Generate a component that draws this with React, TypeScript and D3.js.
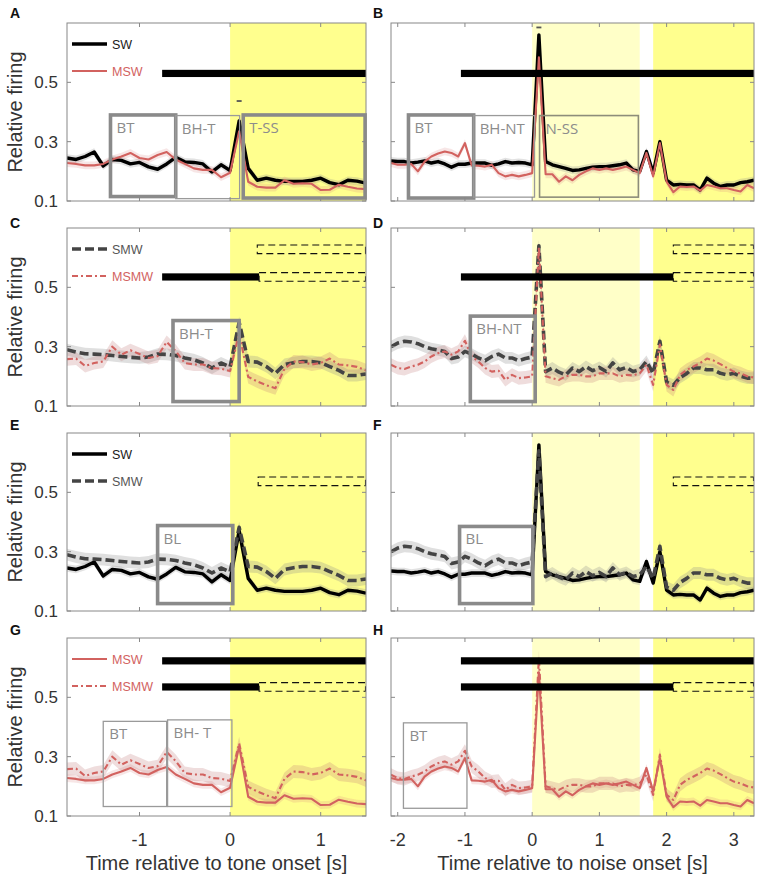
import React from 'react';
import * as d3 from 'd3';

// ---------- DATA ----------
const toneTime = [-1.8, -1.7, -1.6, -1.5, -1.4, -1.3, -1.2, -1.1, -1.0, -0.9, -0.8, -0.7, -0.6, -0.5, -0.4, -0.3, -0.2, -0.1, 0.0,
  0.1, 0.2, 0.3, 0.4, 0.5, 0.6, 0.7, 0.8, 0.9, 1.0, 1.1, 1.2, 1.3, 1.4, 1.5];
const noiseTime = [-2.1, -2.0, -1.9, -1.8, -1.7, -1.6, -1.5, -1.4, -1.3, -1.2, -1.1, -1.0, -0.9, -0.8, -0.7, -0.6, -0.5, -0.4, -0.3, -0.2, -0.1,
  0.0, 0.1, 0.2, 0.3, 0.4, 0.5, 0.6, 0.7, 0.8, 0.9, 1.0, 1.1, 1.2, 1.3, 1.4, 1.5, 1.6, 1.7, 1.8, 1.9, 2.0, 2.1, 2.2, 2.3, 2.4, 2.5,
  2.6, 2.7, 2.8, 2.9, 3.0, 3.1, 3.2, 3.3];

const swTone = [0.245, 0.24, 0.25, 0.265, 0.218, 0.24, 0.237, 0.225, 0.23, 0.215, 0.207, 0.225, 0.247, 0.232, 0.23, 0.225, 0.198, 0.222, 0.203,
  0.37, 0.21, 0.17, 0.177, 0.17, 0.166, 0.166, 0.166, 0.17, 0.177, 0.162, 0.155, 0.17, 0.167, 0.16];
const mswTone = [0.228, 0.225, 0.22, 0.22, 0.225, 0.24, 0.25, 0.262, 0.245, 0.24, 0.255, 0.265, 0.24, 0.225, 0.21, 0.205, 0.205, 0.18, 0.195,
  0.335, 0.165, 0.148, 0.145, 0.145, 0.17, 0.158, 0.16, 0.158, 0.137, 0.138, 0.155, 0.148, 0.142, 0.14];
const smwTone = [0.29, 0.282, 0.276, 0.275, 0.273, 0.27, 0.267, 0.264, 0.262, 0.265, 0.275, 0.274, 0.27, 0.262, 0.256, 0.245, 0.228, 0.245, 0.232,
  0.382, 0.25, 0.248, 0.233, 0.21, 0.24, 0.246, 0.25, 0.25, 0.246, 0.233, 0.22, 0.203, 0.203, 0.208];
const msmwTone = [0.258, 0.26, 0.235, 0.245, 0.25, 0.3, 0.273, 0.288, 0.275, 0.262, 0.268, 0.316, 0.285, 0.245, 0.24, 0.24, 0.228, 0.226, 0.218,
  0.345, 0.198, 0.183, 0.17, 0.16, 0.225, 0.25, 0.248, 0.24, 0.245, 0.26, 0.24, 0.237, 0.232, 0.22];

const swNoise = [0.235, 0.233, 0.233, 0.228, 0.231, 0.235, 0.228, 0.233, 0.225, 0.214, 0.224, 0.224, 0.228, 0.228, 0.228, 0.22, 0.225, 0.233,
  0.228, 0.23, 0.228, 0.222, 0.66, 0.233, 0.222, 0.216, 0.21, 0.203, 0.205, 0.21, 0.214, 0.216, 0.216, 0.219, 0.222, 0.228, 0.205, 0.2,
  0.267, 0.194, 0.3, 0.17, 0.154, 0.156, 0.154, 0.154, 0.137, 0.177, 0.16, 0.149, 0.154, 0.154, 0.162, 0.165, 0.17];
const mswNoise = [0.228, 0.222, 0.222, 0.225, 0.2, 0.233, 0.25, 0.26, 0.267, 0.262, 0.25, 0.295, 0.22, 0.219, 0.216, 0.222, 0.194, 0.183,
  0.188, 0.183, 0.188, 0.194, 0.584, 0.19, 0.19, 0.165, 0.183, 0.17, 0.188, 0.2, 0.21, 0.205, 0.21, 0.205, 0.21, 0.216, 0.205, 0.194,
  0.262, 0.183, 0.295, 0.165, 0.13, 0.149, 0.147, 0.149, 0.135, 0.154, 0.149, 0.143, 0.143, 0.137, 0.132, 0.154, 0.143];
const smwNoise = [0.3, 0.312, 0.318, 0.316, 0.31, 0.3, 0.293, 0.289, 0.284, 0.26, 0.265, 0.284, 0.275, 0.262, 0.253, 0.267, 0.275, 0.262,
  0.262, 0.253, 0.26, 0.265, 0.64, 0.216, 0.228, 0.214, 0.205, 0.228, 0.216, 0.233, 0.219, 0.23, 0.216, 0.245, 0.222, 0.23, 0.216, 0.222,
  0.25, 0.21, 0.318, 0.18, 0.17, 0.196, 0.21, 0.228, 0.228, 0.222, 0.222, 0.21, 0.205, 0.21, 0.2, 0.194, 0.194];
const msmwNoise = [0.239, 0.228, 0.225, 0.233, 0.239, 0.25, 0.267, 0.278, 0.284, 0.273, 0.284, 0.32, 0.267, 0.25, 0.228, 0.216, 0.219, 0.188,
  0.205, 0.194, 0.196, 0.2, 0.635, 0.2, 0.194, 0.188, 0.2, 0.205, 0.205, 0.2, 0.2, 0.21, 0.21, 0.21, 0.2, 0.205, 0.203, 0.21,
  0.239, 0.171, 0.307, 0.171, 0.154, 0.205, 0.222, 0.233, 0.245, 0.26, 0.253, 0.241, 0.228, 0.216, 0.21, 0.2, 0.196];

// approximate SEM half-widths of the shaded bands
const semSW = 0.013;
const semMSW = 0.013;
const semSMW = 0.02;
const semMSMW = 0.022;

const yTicks = [0.1, 0.3, 0.5];
const toneTicks = [-1, 0, 1];
const noiseTicks = [-2, -1, 0, 1, 2, 3];

const toneDomain = [-1.8, 1.5];
const noiseDomain = [-2.1, 3.3];
const yDomain = [0.1, 0.7];

// stimulus periods [start, end]
const toneStim = [[0, 1.5]];
const noiseStimWeak = [[0, 1.6]];
const noiseStimStrong = [[1.8, 3.3]];

// analysis windows: [label, t0, t1, v0, v1, weight]
const boxesA = [['BT', -1.32, -0.6, 0.115, 0.39, 'thick'], ['BH-T', -0.6, 0.105, 0.108, 0.388, 'thin'], ['T-SS', 0.145, 1.49, 0.11, 0.39, 'thick']];
const boxesB = [['BT', -1.84, -0.87, 0.11, 0.39, 'thick'], ['BH-NT', -0.87, 0.035, 0.113, 0.388, 'thin'], ['N-SS', 0.11, 1.58, 0.113, 0.388, 'mid']];
const boxesC = [['BH-T', -0.63, 0.1, 0.115, 0.388, 'thick']];
const boxesD = [['BH-NT', -0.92, 0.045, 0.115, 0.403, 'thick']];
const boxesE = [['BL', -0.8, 0.03, 0.125, 0.388, 'thick']];
const boxesF = [['BL', -1.08, 0.01, 0.125, 0.385, 'thick']];
const boxesG = [['BT', -1.4, -0.7, 0.132, 0.419, 'thin'], ['BH- T', -0.69, 0.02, 0.132, 0.424, 'thin']];
const boxesH = [['BT', -1.915, -0.97, 0.126, 0.414, 'thin']];

// significance bars: [t0, t1, level, kind]
const barsA = [[-0.75, 1.5, 0.53, 'solid']];
const barsB = [[-1.06, 3.3, 0.53, 'solid']];
const barsC = [[-0.75, 0.32, 0.535, 'solid'], [0.32, 1.5, 0.535, 'dashed'], [0.3, 1.5, 0.628, 'dashed']];
const barsD = [[-1.06, 2.1, 0.535, 'solid'], [2.1, 3.3, 0.535, 'dashed'], [2.1, 3.3, 0.628, 'dashed']];
const barsE = [[0.31, 1.5, 0.537, 'dashed']];
const barsF = [[2.1, 3.3, 0.537, 'dashed']];
const barsG = [[-0.75, 1.5, 0.623, 'solid'], [-0.75, 0.32, 0.535, 'solid'], [0.32, 1.5, 0.535, 'dashed']];
const barsH = [[-1.06, 3.3, 0.623, 'solid'], [-1.06, 2.1, 0.535, 'solid'], [2.1, 3.3, 0.535, 'dashed']];

// small peak markers [t, level]
const marksA = [[0.1, 0.437]];
const marksB = [[0.1, 0.685]];

// ---------- STYLE / LAYOUT ----------
const RED = '#d2625f';
const styles: any = {
  SW: { stroke: '#000', width: 3.4, dash: null, band: 'rgba(140,140,140,0.25)', text: '#1a1a1a' },
  MSW: { stroke: RED, width: 2.1, dash: null, band: 'rgba(215,130,130,0.2)', text: RED },
  SMW: { stroke: '#444', width: 3.6, dash: '9,4', band: 'rgba(140,140,140,0.28)', text: '#555' },
  MSMW: { stroke: RED, width: 2.1, dash: '6,3,2,3', band: 'rgba(190,120,120,0.25)', text: RED },
};
const seriesData: any = {
  tone: { SW: [swTone, semSW], MSW: [mswTone, semMSW], SMW: [smwTone, semSMW], MSMW: [msmwTone, semMSMW] },
  noise: { SW: [swNoise, semSW], MSW: [mswNoise, semMSW], SMW: [smwNoise, semSMW], MSMW: [msmwNoise, semMSMW] },
};

const panels = [
  { letter: 'A', col: 0, row: 0, series: ['SW', 'MSW'], legend: true, boxes: boxesA, bars: barsA, marks: marksA },
  { letter: 'B', col: 1, row: 0, series: ['SW', 'MSW'], legend: false, boxes: boxesB, bars: barsB, marks: marksB },
  { letter: 'C', col: 0, row: 1, series: ['SMW', 'MSMW'], legend: true, boxes: boxesC, bars: barsC, marks: [] },
  { letter: 'D', col: 1, row: 1, series: ['SMW', 'MSMW'], legend: false, boxes: boxesD, bars: barsD, marks: [] },
  { letter: 'E', col: 0, row: 2, series: ['SW', 'SMW'], legend: true, boxes: boxesE, bars: barsE, marks: [] },
  { letter: 'F', col: 1, row: 2, series: ['SW', 'SMW'], legend: false, boxes: boxesF, bars: barsF, marks: [] },
  { letter: 'G', col: 0, row: 3, series: ['MSW', 'MSMW'], legend: true, boxes: boxesG, bars: barsG, marks: [] },
  { letter: 'H', col: 1, row: 3, series: ['MSW', 'MSMW'], legend: false, boxes: boxesH, bars: barsH, marks: [] },
];

const W = 770, H = 879;
const colX = [[67, 366], [391, 754]];
const rowTop = [23, 228, 433, 638];
const PH = 178;
const letterY = [18, 228, 430, 635];
const letterX = [10, 373];
const AX = 'Liberation Sans, Arial, Helvetica, sans-serif';
const LBL = 'Open Sans, Noto Sans, sans-serif';

function Panel({ p }: { p: any }) {
  const isTone = p.col === 0;
  const [x0, x1] = colX[p.col];
  const top = rowTop[p.row];
  const bottom = top + PH;
  const x = d3.scaleLinear().domain(isTone ? toneDomain : noiseDomain).range([x0, x1]);
  const y = d3.scaleLinear().domain(yDomain).range([bottom, top]);
  const times = isTone ? toneTime : noiseTime;
  const cond = isTone ? 'tone' : 'noise';
  const clipId = `clip-${p.letter}`;
  const xt = isTone ? toneTicks : noiseTicks;

  const line = d3.line<number>().x((_, i) => x(times[i])).y((d) => y(d));
  const area = (vals: number[], sem: number) =>
    d3.area<number>().x((_, i) => x(times[i])).y0((d) => y(d - sem)).y1((d) => y(d + sem))(vals) as string;

  const boxStroke: any = { thick: ['#8a8a8a', 3.6], thin: ['#9a9a9a', 1.3], mid: ['#8d8d7a', 1.6] };

  return (
    <g>
      <defs>
        <clipPath id={clipId}>
          <rect x={x0} y={top} width={x1 - x0} height={PH} />
        </clipPath>
      </defs>
      <g clipPath={`url(#${clipId})`}>
        {(isTone ? toneStim : noiseStimStrong).map((s, i) => (
          <rect key={'s' + i} x={x(s[0])} y={top} width={x(s[1]) - x(s[0])} height={PH} fill="#ffff8e" />
        ))}
        {!isTone && noiseStimWeak.map((s, i) => (
          <rect key={'w' + i} x={x(s[0])} y={top} width={x(s[1]) - x(s[0])} height={PH} fill="#ffffc8" />
        ))}
        {p.series.map((s: string) => {
          const [vals, sem] = seriesData[cond][s];
          return <path key={'b' + s} d={area(vals, sem)} fill={styles[s].band} stroke="none" />;
        })}
        {p.series.map((s: string) => {
          const [vals] = seriesData[cond][s];
          const st = styles[s];
          return (
            <path key={'l' + s} d={line(vals) as string} fill="none" stroke={st.stroke} strokeWidth={st.width}
              strokeDasharray={st.dash || undefined} strokeLinejoin="round" />
          );
        })}
        {p.bars.map((b: any, i: number) =>
          b[3] === 'solid' ? (
            <rect key={'bar' + i} x={x(b[0])} y={y(b[2]) - 3.6} width={x(b[1]) - x(b[0])} height={7.2} fill="#000" />
          ) : (
            <rect key={'bar' + i} x={x(b[0])} y={y(b[2]) - 4.3} width={x(b[1]) - x(b[0]) - 0.5} height={8.6} fill="none"
              stroke="#111" strokeWidth={1.1} strokeDasharray="7,4" />
          )
        )}
        {p.marks.map((m: any, i: number) => (
          <line key={'m' + i} x1={x(m[0]) - 2.5} x2={x(m[0]) + 2.5} y1={y(m[1])} y2={y(m[1])} stroke="#555" strokeWidth={1.8} />
        ))}
      </g>
      {p.boxes.map((b: any, i: number) => {
        const [c, w] = boxStroke[b[5]];
        return (
          <g key={'box' + i}>
            <rect x={x(b[1])} y={y(b[4])} width={x(b[2]) - x(b[1])} height={y(b[3]) - y(b[4])} fill="none" stroke={c} strokeWidth={w} />
            <text x={x(b[1]) + 6} y={y(b[4]) + 18} fontFamily={LBL} fontSize={15} fill="#8c8c8c">{b[0]}</text>
          </g>
        );
      })}
      {/* frame */}
      <rect x={x0} y={top} width={x1 - x0} height={PH} fill="none" stroke="#888" strokeWidth={1} />
      {xt.map((t) => (
        <g key={'xt' + t}>
          <line x1={x(t)} x2={x(t)} y1={bottom} y2={bottom - 4} stroke="#888" />
          <line x1={x(t)} x2={x(t)} y1={top} y2={top + 4} stroke="#888" />
        </g>
      ))}
      {yTicks.map((v) => (
        <g key={'yt' + v}>
          <line x1={x0} x2={x0 + 4} y1={y(v)} y2={y(v)} stroke="#888" />
          <line x1={x1} x2={x1 - 4} y1={y(v)} y2={y(v)} stroke="#888" />
        </g>
      ))}
      {isTone && yTicks.map((v) => (
        <text key={'ytl' + v} x={x0 - 9} y={y(v) + 6} textAnchor="end" fontFamily={AX} fontSize={17} fill="#333">
          {d3.format('.1f')(v)}
        </text>
      ))}
      {isTone && (
        <text transform={`translate(${22},${(top + bottom) / 2}) rotate(-90)`} textAnchor="middle" fontFamily={AX} fontSize={20} fill="#333">
          Relative firing
        </text>
      )}
      {p.row === 3 && xt.map((t) => (
        <text key={'xtl' + t} x={x(t)} y={bottom + 30} textAnchor="middle" fontFamily={AX} fontSize={18} fill="#333">
          {String(t)}
        </text>
      ))}
      {p.row === 3 && (
        <text x={(x0 + x1) / 2} y={bottom + 54} textAnchor="middle" fontFamily={AX} fontSize={20} fill="#333">
          {isTone ? 'Time relative to tone onset [s]' : 'Time relative to noise onset [s]'}
        </text>
      )}
      {p.legend && p.series.map((s: string, i: number) => {
        const st = styles[s];
        const ly = top + 21 + i * 27;
        return (
          <g key={'lg' + s}>
            <line x1={x0 + 5} x2={x0 + 40} y1={ly} y2={ly} stroke={st.stroke} strokeWidth={st.width} strokeDasharray={st.dash || undefined} />
            <text x={x0 + 45} y={ly + 4.5} fontFamily={AX} fontSize={12.5} fill={st.text}>{s}</text>
          </g>
        );
      })}
      <text x={letterX[p.col]} y={letterY[p.row]} fontFamily={AX} fontWeight="bold" fontSize={14} fill="#111">{p.letter}</text>
    </g>
  );
}

export default function App() {
  return (
    <div>
      <style>{'body{margin:0;background:#fff}'}</style>
      <svg width={W} height={H} viewBox={`0 0 ${W} ${H}`} style={{ display: 'block' }}>
        <rect width={W} height={H} fill="#fff" />
        {panels.map((p) => (
          <Panel key={p.letter} p={p} />
        ))}
      </svg>
    </div>
  );
}
